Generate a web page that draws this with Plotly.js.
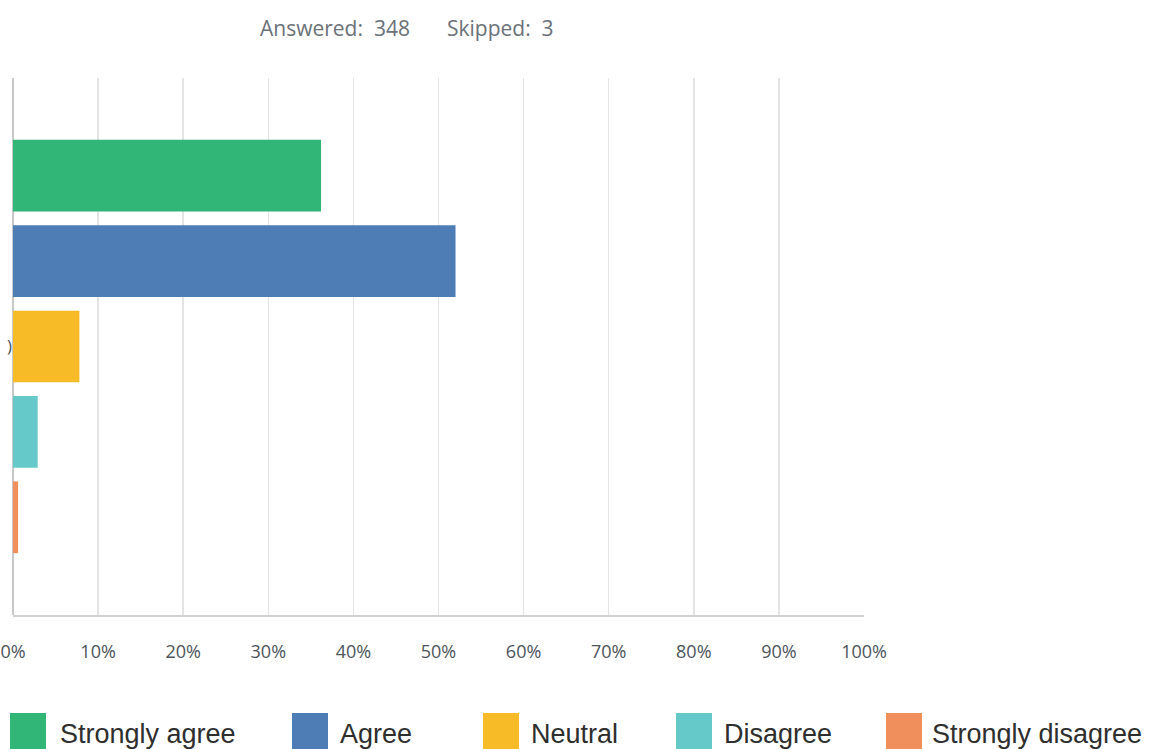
<!DOCTYPE html>
<html>
<head>
<meta charset="utf-8">
<script src="https://cdn.plot.ly/plotly-3.0.1.min.js"></script>
<style>html,body{margin:0;padding:0;background:#fff;}#chart{width:1149px;height:749px;}</style>
</head>
<body>
<div id="chart"></div>
<script>
// ---- data ----
const categories = ["Strongly agree", "Agree", "Neutral", "Disagree", "Strongly disagree"];
const percents = [36.2, 52.0, 7.8, 2.9, 0.6];
const colors = ["#31b677", "#4e7cb4", "#f8bb28", "#66c9c9", "#f08f5b"];
const questionLabel = [")"];
const xTickVals = [0, 10, 20, 30, 40, 50, 60, 70, 80, 90, 100];
const xTickText = ["0%", "10%", "20%", "30%", "40%", "50%", "60%", "70%", "80%", "90%", "100%"];
const answered = 348;
const skipped = 3;

// ---- layout geometry (pixels) ----
const W = 1149, H = 749;
const M = {l: 13, r: 285, t: 78, b: 134};
const pw = W - M.l - M.r, ph = H - M.t - M.b;
const px = x => (x - M.l) / pw;
const py = y => (H - M.b - y) / ph;
const legendSquareX = [10, 292, 483, 676, 886];
const legendTextX = [58, 338, 529, 722, 930];

const traces = categories.map((c, i) => ({
  type: "bar",
  orientation: "h",
  name: c,
  x: [percents[i]],
  y: [questionLabel[0]],
  marker: {color: colors[i]},
  hoverinfo: "name+x",
  showlegend: false
}));

const shapes = [];
const annotations = [];
categories.forEach((c, i) => {
  shapes.push({
    type: "rect", xref: "paper", yref: "paper",
    x0: px(legendSquareX[i]), x1: px(legendSquareX[i] + 36),
    y0: py(749), y1: py(713),
    fillcolor: colors[i], line: {width: 0}
  });
  annotations.push({
    xref: "paper", yref: "paper", x: px(legendTextX[i]), y: py(734),
    xanchor: "left", yanchor: "middle", showarrow: false,
    text: c,
    font: {family: "Liberation Sans, Arial, sans-serif", size: 27, color: "#2e2e2e"}
  });
});
annotations.push({
  xref: "paper", yref: "paper", x: px(258), y: py(28), xanchor: "left", yanchor: "middle",
  showarrow: false, text: "Answered:  " + answered,
  font: {family: "Open Sans, sans-serif", size: 21, color: "#6b7178"}
});
annotations.push({
  xref: "paper", yref: "paper", x: px(445), y: py(28), xanchor: "left", yanchor: "middle",
  showarrow: false, text: "Skipped:  " + skipped,
  font: {family: "Open Sans, sans-serif", size: 21, color: "#6b7178"}
});

const layout = {
  width: W, height: H,
  margin: M,
  paper_bgcolor: "#ffffff",
  plot_bgcolor: "#ffffff",
  barmode: "group",
  bargap: 0.205,
  bargroupgap: 0.16,
  showlegend: false,
  xaxis: {
    range: [0, 100],
    tickvals: xTickVals,
    ticktext: xTickText,
    showgrid: true,
    gridcolor: "#e4e4e4",
    gridwidth: 1.5,
    zeroline: true,
    zerolinecolor: "#c8c8c8",
    zerolinewidth: 2,
    showline: true,
    linecolor: "#d0d0d0",
    linewidth: 2,
    ticks: "",
    ticklabelstandoff: 19,
    tickfont: {family: "Open Sans, sans-serif", size: 18, color: "#4d545b"},
    fixedrange: true
  },
  yaxis: {
    type: "category",
    range: [0.5, -0.5],
    showgrid: false,
    zeroline: false,
    showline: false,
    ticks: "",
    tickfont: {family: "Open Sans, sans-serif", size: 17, color: "#4d545b"},
    fixedrange: true
  },
  shapes: shapes,
  annotations: annotations
};

Plotly.newPlot("chart", traces, layout, {displayModeBar: false, staticPlot: true});
</script>
</body>
</html>
